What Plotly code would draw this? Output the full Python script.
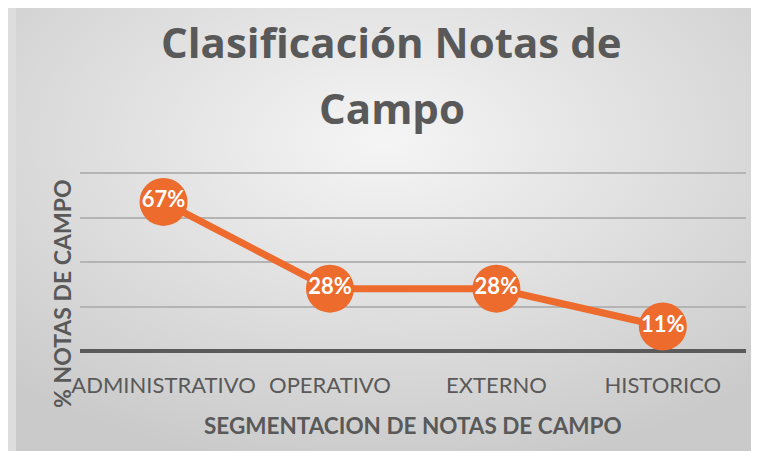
import base64
import plotly.graph_objects as go

# ---- data ----
categories = ["ADMINISTRATIVO", "OPERATIVO", "EXTERNO", "HISTORICO"]
values = [67, 28, 28, 11]
value_labels = ["67%", "28%", "28%", "11%"]
y_ticks = [0, 20, 40, 60, 80]

title_line1 = "Clasificación Notas de"
title_line2 = "Campo"
x_title = "SEGMENTACION DE NOTAS DE CAMPO"
y_title = "% NOTAS DE CAMPO"

# ---- style ----
W, H = 743, 443          # page body keeps an 8px margin around the figure
ORANGE = "#EC6B2D"
TEXT = "#595959"
FONT = "Lato"
TITLE_FONT = "Open Sans"

svg = f'''<svg xmlns="http://www.w3.org/2000/svg" width="{W}" height="{H}" viewBox="0 0 {W} {H}">
<defs><radialGradient id="g" cx="50%" cy="30%" r="75%">
<stop offset="0" stop-color="#f5f5f5"/><stop offset="1" stop-color="#cacaca"/>
</radialGradient></defs>
<rect x="0" y="0" width="{W}" height="{H}" fill="url(#g)"/>
</svg>'''
bg_src = "data:image/svg+xml;base64," + base64.b64encode(svg.encode()).decode()


def px_x(v):
    return v / W


def px_y(v):
    return 1 - v / H


# plot area in pixels (figure coordinates)
PX_LEFT, PX_RIGHT = 65, 738
PX_ZERO, PX_TOP_GRID = 343, 165
Y_MAX = 82
ppu = (PX_ZERO - PX_TOP_GRID) / y_ticks[-1]
px_domain_top = PX_ZERO - Y_MAX * ppu

fig = go.Figure()
fig.add_trace(go.Scatter(
    x=categories, y=values, mode="lines+markers+text",
    text=value_labels, textposition="middle center",
    line=dict(color=ORANGE, width=7),
    marker=dict(size=48, color=ORANGE),
    textfont=dict(family=FONT, size=22, color="white", weight="bold"),
    cliponaxis=False, hoverinfo="skip", showlegend=False,
))

fig.update_layout(
    width=W, height=H, autosize=False,
    margin=dict(l=0, r=0, t=0, b=0),
    paper_bgcolor="#dddddd", plot_bgcolor="rgba(0,0,0,0)",
    images=[dict(source=bg_src, xref="paper", yref="paper", x=0, y=1,
                 sizex=1, sizey=1, sizing="stretch", layer="below",
                 xanchor="left", yanchor="top")],
    xaxis=dict(type="category", domain=[px_x(PX_LEFT), px_x(PX_RIGHT)], range=[-0.5, 3.5],
               showgrid=False, showline=False, zeroline=False,
               ticks="", ticklabelstandoff=19,
               tickfont=dict(family=FONT, size=22, color=TEXT)),
    yaxis=dict(domain=[px_y(PX_ZERO), px_y(px_domain_top)], range=[0, Y_MAX],
               tickvals=y_ticks, showticklabels=False, ticks="",
               showgrid=True, gridcolor="#b4b4b4", gridwidth=1.5,
               zeroline=True, zerolinecolor="#5a5a5a", zerolinewidth=4,
               showline=False),
    annotations=[
        dict(text=title_line1, x=px_x(380), y=px_y(34), xref="paper", yref="paper",
             showarrow=False, xanchor="center", yanchor="middle",
             font=dict(family=TITLE_FONT, size=42, color=TEXT, weight="bold")),
        dict(text=title_line2, x=px_x(380), y=px_y(99), xref="paper", yref="paper",
             showarrow=False, xanchor="center", yanchor="middle",
             font=dict(family=TITLE_FONT, size=42, color=TEXT, weight="bold")),
        dict(text=x_title, x=px_x(401), y=px_y(417.5), xref="paper", yref="paper",
             showarrow=False, xanchor="center", yanchor="middle",
             font=dict(family=FONT, size=22.5, color=TEXT, weight="bold")),
        dict(text=y_title, x=px_x(46), y=px_y(285.5), xref="paper", yref="paper",
             showarrow=False, xanchor="center", yanchor="middle", textangle=-90,
             font=dict(family=FONT, size=23, color=TEXT, weight="bold")),
    ],
)

fig.write_html("out.html")
